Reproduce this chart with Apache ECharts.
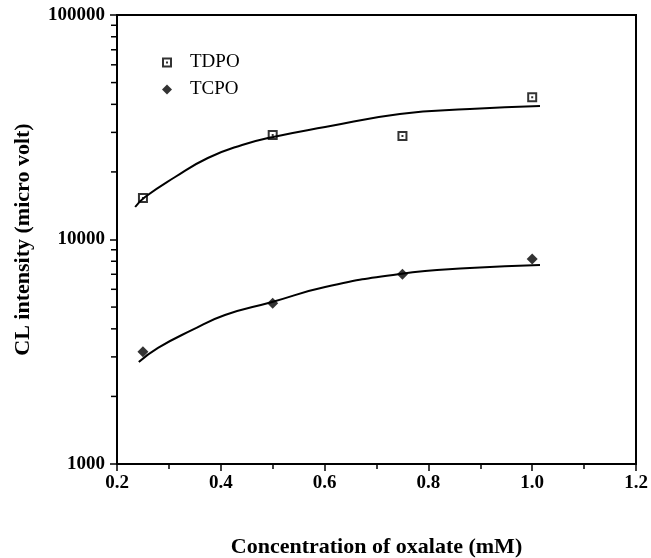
<!DOCTYPE html>
<html>
<head>
<meta charset="utf-8">
<script src="https://cdn.jsdelivr.net/npm/echarts@6/dist/echarts.min.js"></script>
<style>
html,body{margin:0;padding:0;background:#fff;}
#chart{width:651px;height:558px;}
</style>
</head>
<body>
<div id="chart"></div>
<script>
// Measured data points
const concentration = [0.25, 0.5, 0.75, 1.0];
const tdpo = [15300, 29200, 28900, 43000];
const tcpo = [3160, 5200, 7000, 8190];

// Fitted curves
const tdpoFitX = [0.235, 0.254, 0.312, 0.375, 0.441, 0.501, 0.601, 0.745, 0.880, 1.015];
const tdpoFitY = [13960, 15460, 18980, 23070, 26360, 28630, 31700, 36230, 38120, 39350];
const tcpoFitX = [0.242, 0.279, 0.345, 0.408, 0.499, 0.601, 0.745, 0.880, 1.015];
const tcpoFitY = [2845, 3290, 3955, 4610, 5270, 6140, 7020, 7460, 7700];

// Axis settings
const xMin = 0.2, xMax = 1.2, xStep = 0.2;
const yMin = 1000, yMax = 100000;
const yMinorTicks = [2000, 3000, 4000, 5000, 6000, 7000, 8000, 9000,
                     20000, 30000, 40000, 50000, 60000, 70000, 80000, 90000];

const seriesNames = ['TDPO', 'TCPO'];
const xTitle = 'Concentration of oxalate (mM)';
const yTitle = 'CL intensity (micro volt)';

const zip = (a, b) => a.map((v, i) => [v, b[i]]);
const serif = 'Liberation Serif';
const squareDot = 'path://M0,0H10V10H0Z M2,2V8H8V2Z M4,4H6V6H4Z';
const diamondPath = 'path://M5,0L10,5L5,10L0,5Z';

const chart = echarts.init(document.getElementById('chart'), null, {renderer: 'canvas'});
chart.setOption({
  animation: false,
  backgroundColor: '#fff',
  grid: {left: 117, right: 15, top: 15, bottom: 94, show: true, borderColor: '#000', borderWidth: 2,
    containLabel: false, outerBoundsMode: 'none'},
  legend: {
    data: [{name: seriesNames[0], icon: squareDot}, {name: seriesNames[1], icon: diamondPath}],
    orient: 'vertical',
    left: 157, top: 48,
    itemWidth: 36, itemHeight: 10, itemGap: 8,
    textStyle: {fontFamily: serif, fontSize: 19, color: '#000', lineHeight: 19}
  },
  xAxis: {
    type: 'value', min: xMin, max: xMax, interval: xStep,
    axisLine: {show: true, lineStyle: {color: '#000', width: 2}},
    axisTick: {show: true, length: 7, lineStyle: {color: '#000', width: 1.5}},
    minorTick: {show: true, splitNumber: 2, length: 5, lineStyle: {color: '#000', width: 1.5}},
    splitLine: {show: false},
    axisLabel: {fontFamily: serif, fontWeight: 'bold', fontSize: 19, color: '#000', margin: 10,
      formatter: v => v.toFixed(1)},
    name: xTitle, nameLocation: 'middle', nameGap: 72,
    nameTextStyle: {fontFamily: serif, fontWeight: 'bold', fontSize: 22, color: '#000'}
  },
  yAxis: {
    type: 'log', min: yMin, max: yMax, logBase: 10,
    axisLine: {show: true, lineStyle: {color: '#000', width: 2}},
    axisTick: {show: true, length: 7, lineStyle: {color: '#000', width: 1.5}},
    splitLine: {show: false},
    axisLabel: {fontFamily: serif, fontWeight: 'bold', fontSize: 19, color: '#000', margin: 12,
      formatter: v => String(Math.round(v))},
    name: yTitle, nameLocation: 'middle', nameGap: 83,
    nameTextStyle: {fontFamily: serif, fontWeight: 'bold', fontSize: 22, color: '#000'}
  },
  series: [
    {
      name: 'TDPO', type: 'scatter', data: zip(concentration, tdpo),
      symbol: squareDot, symbolSize: 10,
      itemStyle: {color: '#000'}, z: 5
    },
    {
      name: 'TCPO', type: 'scatter', data: zip(concentration, tcpo),
      symbol: diamondPath, symbolSize: 11,
      itemStyle: {color: '#000'}, z: 5
    },
    {
      name: 'TDPO fit', type: 'line', data: zip(tdpoFitX, tdpoFitY),
      smooth: 0.5, showSymbol: false, symbol: 'none',
      lineStyle: {color: '#000', width: 2}
    },
    {
      name: 'TCPO fit', type: 'line', data: zip(tcpoFitX, tcpoFitY),
      smooth: 0.5, showSymbol: false, symbol: 'none',
      lineStyle: {color: '#000', width: 2}
    },
    {
      name: 'yMinorTicks', type: 'custom', clip: false, silent: true,
      data: yMinorTicks.map(v => [xMin, v]),
      renderItem: (params, api) => {
        const p = api.coord([api.value(0), api.value(1)]);
        return {type: 'line', shape: {x1: p[0] - 6, y1: p[1], x2: p[0], y2: p[1]},
          style: {stroke: '#000', lineWidth: 1.5}};
      }
    }
  ]
});
</script>
</body>
</html>
